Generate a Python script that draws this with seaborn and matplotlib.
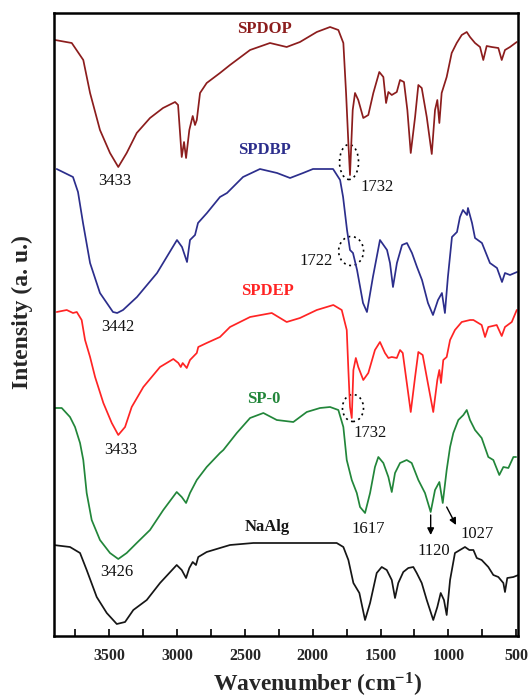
import numpy as np
import pandas as pd
import matplotlib
matplotlib.use("Agg")
import matplotlib.pyplot as plt
import seaborn as sns
from matplotlib.patches import Ellipse

# ---------------- data ----------------
samples = ["SPDOP", "SPDBP", "SPDEP", "SP-0", "NaAlg"]
colors = ["#8c1d1d", "#2c2e8c", "#ff2424", "#22863a", "#161616"]

spdop_wn = [3900, 3777, 3692, 3642, 3569, 3495, 3434, 3372, 3298, 3200, 3104, 3015, 2993, 2966, 2949, 2934,
            2910, 2885, 2868, 2855, 2831, 2782, 2684, 2610, 2462, 2315, 2192, 2094, 1970, 1872, 1811, 1774,
            1754, 1737, 1725, 1705, 1688, 1664, 1627, 1590, 1553, 1509, 1479, 1459, 1442, 1417, 1380, 1356,
            1327, 1302, 1277, 1245, 1221, 1196, 1159, 1122, 1098, 1081, 1066, 1049, 1012, 975, 938, 901, 864,
            840, 803, 766, 742, 717, 680, 631, 606, 582, 545, 495]
spdop_int = [596, 593, 576, 543, 506, 483, 469, 483, 503, 518, 528, 534, 531, 479, 494, 478,
             506, 520, 511, 516, 543, 553, 563, 571, 586, 593, 589, 594, 604, 609, 606, 593,
             543, 493, 461, 526, 543, 536, 518, 521, 543, 564, 559, 533, 544, 541, 544, 556,
             554, 526, 483, 519, 551, 548, 519, 482, 526, 536, 513, 543, 559, 583, 593, 601, 604,
             599, 593, 589, 576, 590, 589, 588, 576, 586, 589, 594]

spdbp_wn = [3888, 3768, 3731, 3694, 3642, 3569, 3473, 3442, 3399, 3296, 3148, 3001, 2964, 2927, 2905, 2868,
            2846, 2780, 2684, 2632, 2514, 2389, 2263, 2167, 2071, 1998, 1850, 1798, 1776, 1747, 1725, 1703,
            1673, 1629, 1600, 1556, 1504, 1452, 1430, 1408, 1379, 1341, 1305, 1268, 1231, 1194, 1150, 1113,
            1076, 1047, 1025, 1003, 973, 936, 914, 892, 862, 855, 825, 803, 752, 693, 641, 604, 582, 545, 493]
spdbp_int = [467, 459, 444, 413, 373, 343, 324, 323, 326, 339, 363, 396, 389, 374, 396, 401,
             413, 423, 439, 443, 459, 467, 463, 458, 463, 467, 467, 456, 439, 406, 386, 383,
             366, 333, 324, 359, 396, 386, 373, 349, 373, 391, 393, 383, 369, 356, 333, 321,
             336, 343, 323, 359, 399, 404, 419, 426, 421, 428, 413, 398, 393, 373, 368, 354, 363, 361, 364]

spdep_wn = [3888, 3814, 3768, 3740, 3704, 3679, 3642, 3605, 3544, 3482, 3434, 3384, 3335, 3249, 3126, 3028,
            2991, 2973, 2959, 2929, 2905, 2855, 2844, 2782, 2684, 2610, 2462, 2302, 2192, 2094, 1970, 1848,
            1786, 1749, 1737, 1725, 1712, 1700, 1682, 1664, 1627, 1590, 1541, 1504, 1467, 1442, 1417, 1380,
            1356, 1336, 1312, 1277, 1245, 1221, 1189, 1155, 1111, 1081, 1066, 1054, 1037, 1012, 987, 951,
            901, 840, 815, 754, 729, 705, 643, 606, 582, 532, 495]
spdep_int = [324, 326, 323, 324, 316, 296, 279, 259, 233, 213, 201, 209, 229, 249, 269, 277,
             273, 269, 273, 268, 276, 283, 289, 293, 299, 309, 319, 323, 314, 318, 326, 331,
             326, 306, 266, 229, 218, 266, 278, 269, 256, 263, 286, 294, 283, 278, 279, 278,
             286, 283, 259, 224, 259, 284, 281, 256, 224, 256, 266, 253, 276, 279, 296, 306,
             314, 316, 316, 311, 299, 309, 311, 300, 309, 314, 326]

sp0_wn = [3900, 3851, 3790, 3753, 3716, 3692, 3667, 3630, 3569, 3495, 3434, 3372, 3298, 3200, 3102, 3003,
          2966, 2934, 2905, 2855, 2782, 2684, 2659, 2560, 2462, 2364, 2265, 2143, 2044, 1946, 1872, 1811,
          1774, 1749, 1712, 1675, 1651, 1614, 1577, 1541, 1516, 1479, 1442, 1417, 1393, 1356, 1307, 1270,
          1221, 1172, 1130, 1098, 1066, 1041, 1012, 987, 963, 926, 889, 864, 840, 803, 754, 705, 668, 624,
          594, 557, 520, 500]
sp0_int = [228, 228, 219, 209, 193, 176, 143, 116, 96, 83, 77, 83, 93, 106, 126, 144,
           139, 133, 143, 156, 169, 183, 186, 203, 218, 223, 216, 214, 224, 228, 229, 226,
           209, 176, 156, 143, 129, 123, 143, 169, 179, 173, 159, 144, 163, 173, 176, 173,
           156, 143, 124, 146, 154, 133, 166, 189, 203, 216, 221, 226, 216, 206, 198, 179, 176, 161,
           169, 168, 179, 179]

naalg_wn = [3912, 3790, 3716, 3667, 3593, 3519, 3445, 3384, 3323, 3224, 3126, 3003, 2966, 2934, 2910, 2885,
            2861, 2844, 2782, 2684, 2610, 2438, 2265, 2044, 1823, 1774, 1737, 1700, 1656, 1614, 1577, 1528,
            1491, 1454, 1417, 1393, 1369, 1332, 1295, 1258, 1233, 1196, 1159, 1111, 1081, 1056, 1032, 1012,
            987, 951, 914, 877, 845, 815, 790, 754, 705, 668, 631, 594, 582, 565, 520, 483]
naalg_int = [91, 89, 83, 66, 39, 23, 12, 14, 26, 36, 53, 71, 66, 58, 68, 74,
             71, 79, 84, 88, 91, 93, 93, 93, 93, 89, 76, 53, 43, 16, 33, 63,
             69, 66, 56, 38, 53, 64, 68, 69, 63, 53, 36, 16, 29, 43, 36, 21,
             56, 83, 86, 89, 86, 86, 78, 76, 69, 61, 59, 53, 44, 58, 59, 61]

tick_values = [3500, 3000, 2500, 2000, 1500, 1000, 500]
tick_labels = ["3500", "3000", "2500", "2000", "1500", "1000", "500"]

# sample-name labels: (text, wavenumber, intensity)
name_labels = [("SPDOP", 2359, 607), ("SPDBP", 2359, 486), ("SPDEP", 2337, 345),
               ("SP-0", 2359, 237), ("NaAlg", 2337, 109)]
# peak labels: (text, wavenumber, intensity)
peak_labels = [("3433", 3457, 455), ("1732", 1526, 449), ("3442", 3436, 309), ("1722", 1976, 375),
               ("3433", 3413, 186), ("1732", 1578, 203), ("3426", 3442, 64), ("1617", 1592, 107),
               ("1120", 1105, 85), ("1027", 788, 102)]
# dotted ellipses: (centre wn, centre intensity, width wn, height)
ellipses = [(1732, 474, 140, 35), (1717, 385, 184, 29), (1703, 228, 155, 27)]
# arrows: (start wn, start int, end wn, end int)
arrows = [(1130, 121, 1130, 101), (1012, 129, 943, 111)]

# ---------------- build frame ----------------
series = {"SPDOP": (spdop_wn, spdop_int), "SPDBP": (spdbp_wn, spdbp_int),
          "SPDEP": (spdep_wn, spdep_int), "SP-0": (sp0_wn, sp0_int),
          "NaAlg": (naalg_wn, naalg_int)}
frames = []
for name, (wn, it) in series.items():
    frames.append(pd.DataFrame({"wn": wn, "I": it, "sample": name}))
df = pd.concat(frames, ignore_index=True)

sns.set_theme(style="white")
plt.rcParams["font.family"] = ["Liberation Serif", "DejaVu Serif"]
plt.rcParams["mathtext.fontset"] = "custom"
plt.rcParams["mathtext.rm"] = "Liberation Serif:bold"
plt.rcParams["mathtext.it"] = "Liberation Serif:bold"
plt.rcParams["mathtext.bf"] = "Liberation Serif:bold"

fig = plt.figure(figsize=(5.3, 6.98), dpi=100)
ax = fig.add_axes([54 / 530, 1 - 636 / 698, 464 / 530, 623 / 698])

sns.lineplot(data=df, x="wn", y="I", hue="sample", palette=dict(zip(samples, colors)),
             estimator=None, sort=False, legend=False, linewidth=1.25, ax=ax)

ax.set_xlim(3908, 486)
ax.set_ylim(0, 623)
ax.set_yticks([])
ax.set_xticks(tick_values)
ax.set_xticklabels(tick_labels, fontweight="bold", fontsize=11.5)
ax.set_xticks([3750, 3250, 2750, 2250, 1750, 1250, 750], minor=True)
ax.tick_params(axis="x", which="both", direction="in", length=5, width=1.2,
               color="black", pad=9, bottom=True, top=False)
for s in ax.spines.values():
    s.set_linewidth(1.8)
    s.set_color("black")

ax.set_xlabel("Wavenumber (cm$^{-1}$)", fontsize=17, fontweight="bold")
ax.xaxis.set_label_coords(0.569, -0.056)
ax.set_ylabel("Intensity (a. u.)", fontsize=17, fontweight="bold")
ax.yaxis.set_label_coords(-0.045, 0.52)

for (txt, x, y), c in zip(name_labels, colors):
    ax.text(x, y, txt, color=c, fontsize=12, fontweight="bold", ha="center", va="center")
for txt, x, y in peak_labels:
    ax.text(x, y, txt, color="#111111", fontsize=12, ha="center", va="center")
for cx, cy, w, h in ellipses:
    ax.add_patch(Ellipse((cx, cy), w, h, fill=False, linestyle=(0, (1.2, 2.2)),
                         linewidth=1.2, edgecolor="black"))
for x0, y0, x1, y1 in arrows:
    ax.annotate("", xy=(x1, y1), xytext=(x0, y0),
                arrowprops=dict(arrowstyle="-|>", color="black", lw=1.0,
                                mutation_scale=10, shrinkA=0, shrinkB=0))

fig.savefig("out.png", dpi=100)
